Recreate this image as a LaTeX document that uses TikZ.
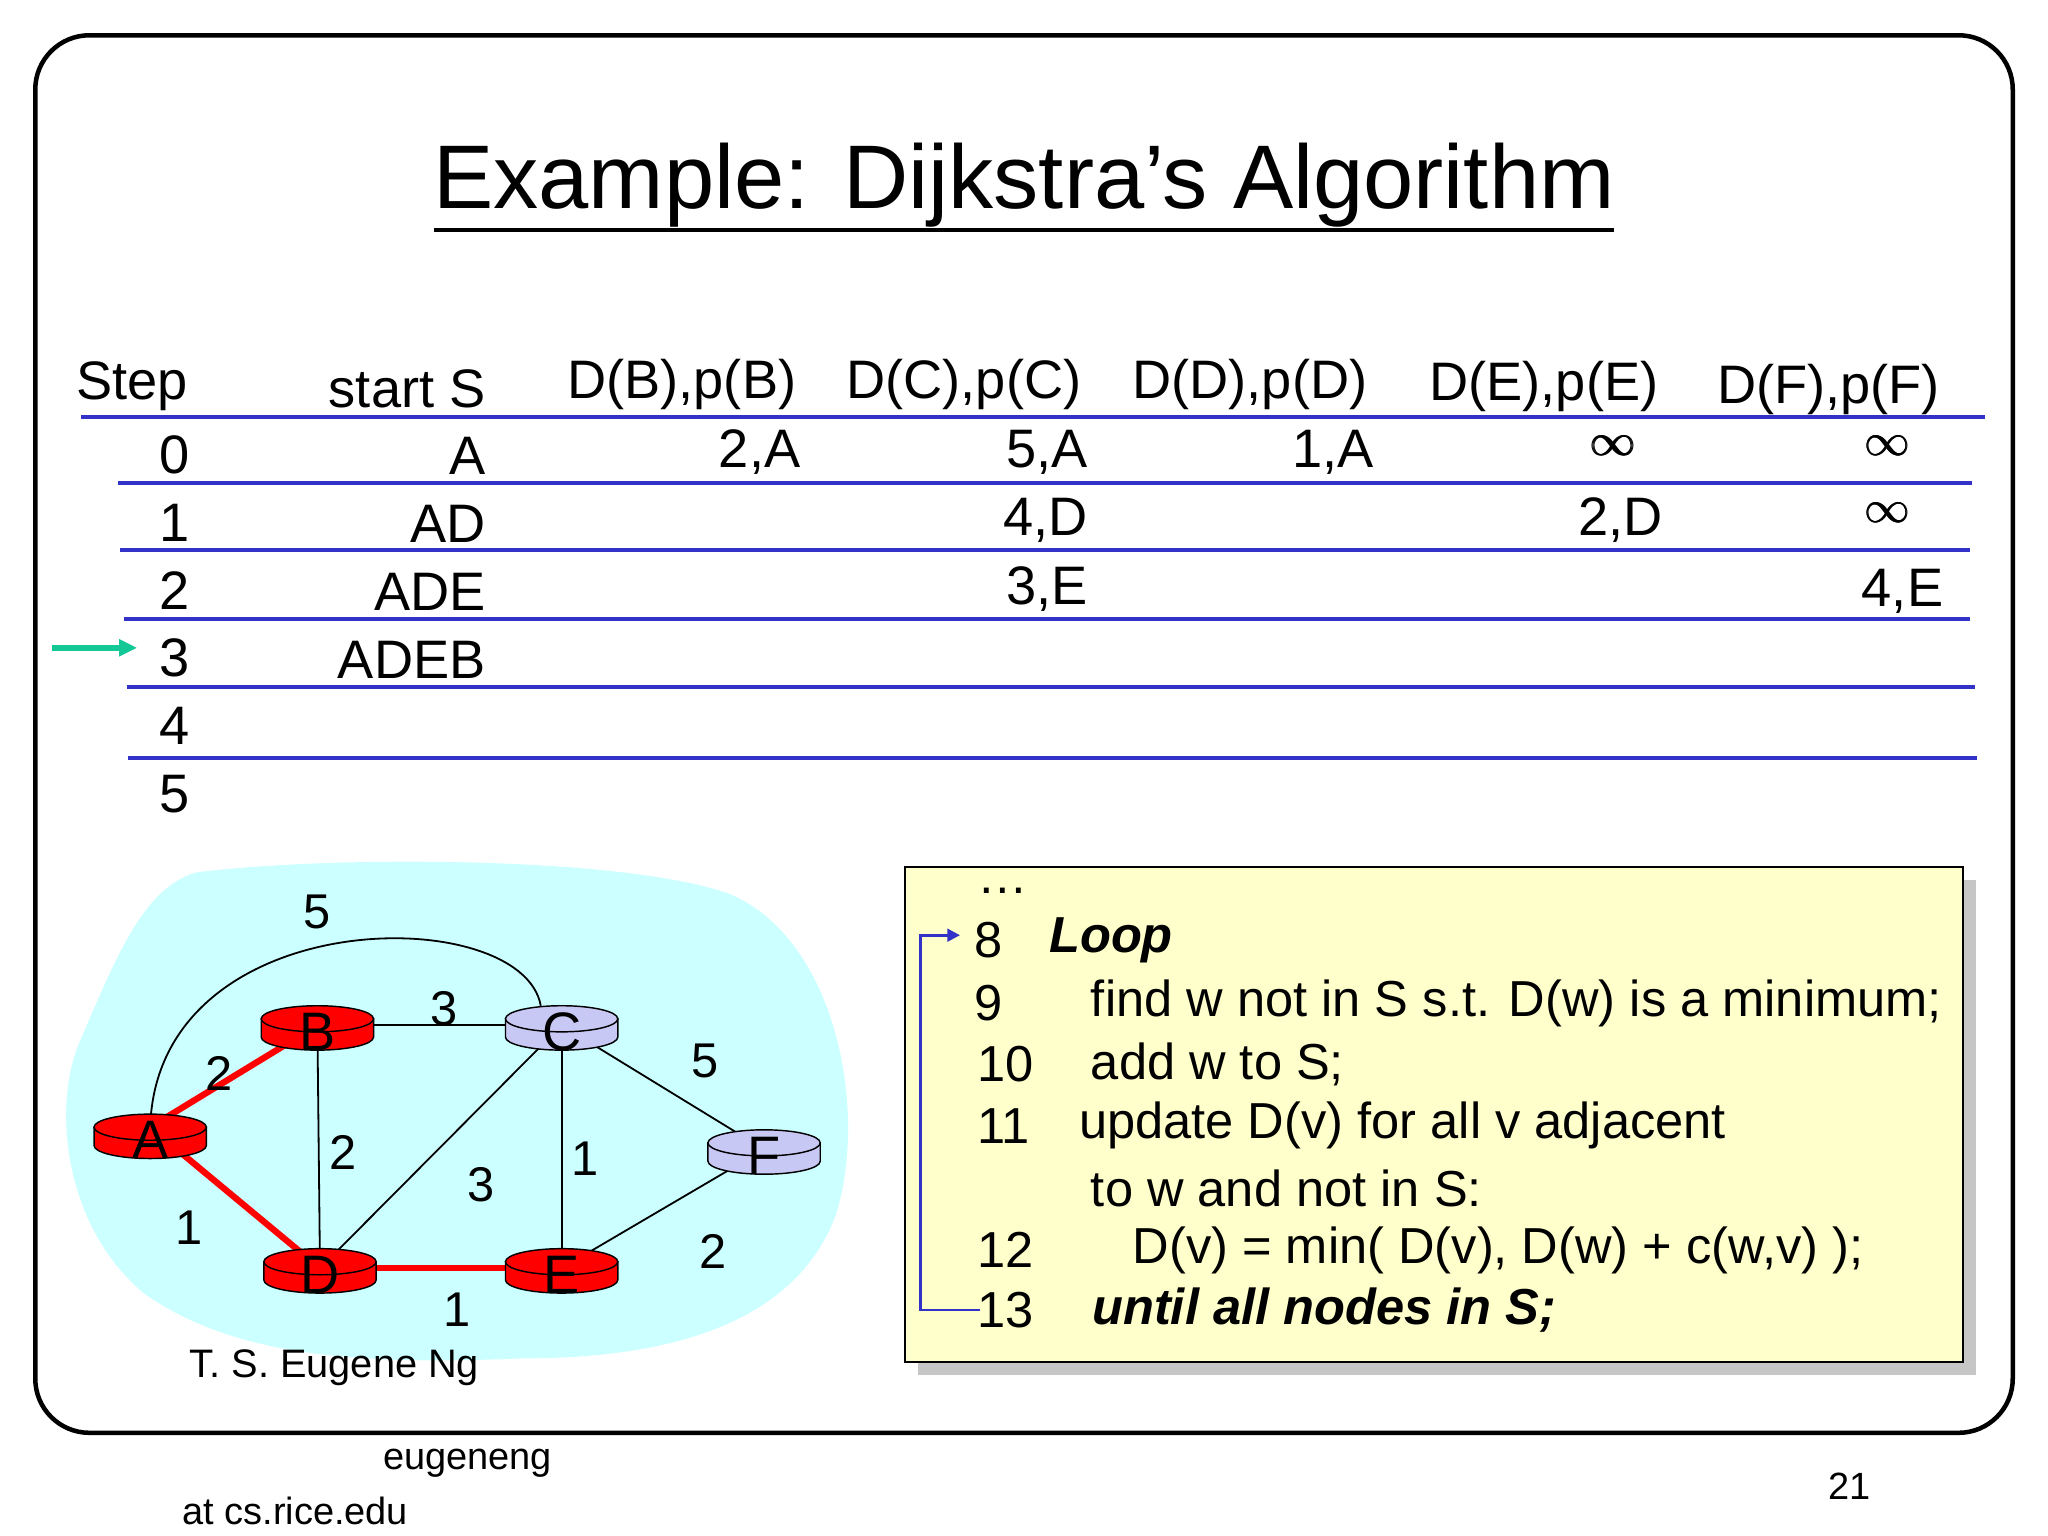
\documentclass[tikz,border=0pt]{standalone}
\usepackage{fontspec}
\setmainfont{Liberation Sans}
\usetikzlibrary{arrows.meta,shapes.geometric}
\definecolor{tblue}{RGB}{50,50,200}
\definecolor{lav}{RGB}{200,200,245}
\definecolor{cyanbg}{RGB}{204,255,255}
\definecolor{codebg}{RGB}{255,255,204}
\definecolor{grn}{RGB}{20,200,150}
\tikzset{
 tl/.style={draw=tblue,line width=2.2pt},
 tx/.style={font=\fontsize{30}{32}\selectfont,inner sep=0pt},
 inf/.style={font=\fontsize{58}{58}\selectfont,inner sep=0pt},
 gl/.style={font=\fontsize{27}{29}\selectfont,inner sep=0pt},
 cd/.style={font=\fontsize{28}{30}\selectfont,inner sep=0pt,anchor=west},
 edge/.style={line width=1pt},
 redge/.style={line width=3.5pt,draw=red},
}
\newcommand\rtr[4]{% x y fill label
 \fill[#3,draw=black,line width=0.8pt] (#1-43,#2-7) -- (#1-43,#2+7) arc[start angle=180,end angle=0,x radius=43,y radius=10] -- (#1+43,#2-7) -- cycle;
 \node[ellipse,draw,fill=#3,line width=0.8pt,minimum width=86*0.0254cm,minimum height=20*0.0254cm,inner sep=0pt] (#4r) at (#1,#2-7) {};
 \node[tx] at (#1,#2+3) {#4};
}
\newcommand\binf{\tikz[baseline]{\node[inner sep=0pt,anchor=base] at (0,0) {$\infty$}; \node[inner sep=0pt,anchor=base] at (0.4pt,0) {$\infty$}; \node[inner sep=0pt,anchor=base] at (0.8pt,0) {$\infty$};}}
\begin{document}
\begin{tikzpicture}[x=0.0254cm,y=-0.0254cm]
\useasboundingbox (0,0) rectangle (1568,1176);
\fill[white] (0,0) rectangle (1568,1176);
\draw[line width=2.5pt,rounded corners=30] (27,27) rectangle (1541,1097);
\node[font=\fontsize{50}{55}\selectfont,inner sep=0pt] (title) at (784,142) {Example: Dijkstra’s Algorithm};
\draw[line width=2pt] (332,176) -- (1236,176);
% table
\draw[tl] (62,319) -- (1520,319);
\draw[tl] (90,370) -- (1510,370);
\draw[tl] (92,421) -- (1508,421);
\draw[tl] (95,474) -- (1508,474);
\draw[tl] (97,526) -- (1512,526);
\draw[tl] (98,580) -- (1514,580);
\node[tx,anchor=west] at (58,296) {Step};
\node[tx,anchor=east] at (372,298) {start S};
\node[tx] at (522,294) {D(B),p(B)};
\node[tx] at (738,294) {D(C),p(C)};
\node[tx] at (957,294) {D(D),p(D)};
\node[tx] at (1182,296) {D(E),p(E)};
\node[tx] at (1400,298) {D(F),p(F)};
\foreach \i/\y in {0/348,1/400,2/452,3/504,4/556,5/608} \node[tx] at (134,\y) {\i};
\node[tx,anchor=east] at (372,349) {A};
\node[tx,anchor=east] at (372,401) {AD};
\node[tx,anchor=east] at (372,453) {ADE};
\node[tx,anchor=east] at (372,505) {ADEB};
\node[tx,anchor=east] at (613,346) {2,A};
\node[tx,anchor=east] at (833,346) {5,A};
\node[tx,anchor=east] at (1052,346) {1,A};
\node[inf] at (1235,341) {\binf};
\node[inf] at (1445,341) {\binf};
\node[tx,anchor=east] at (833,398) {4,D};
\node[tx,anchor=east] at (1273,398) {2,D};
\node[inf] at (1445,393) {\binf};
\node[tx,anchor=east] at (833,451) {3,E};
\node[tx,anchor=east] at (1488,453) {4,E};
\coordinate (g1) at (40,496); \coordinate (g2) at (105,496);
\draw[grn,line width=3pt,-{Triangle[length=10pt,width=9pt]}] (g1) -- (g2);
% graph
\fill[cyanbg] (150,668) .. controls (250,655) and (480,655) .. (560,685)
 .. controls (640,720) and (665,850) .. (640,930)
 .. controls (610,1010) and (520,1040) .. (400,1040)
 .. controls (280,1045) and (180,1040) .. (110,990)
 .. controls (50,940) and (40,850) .. (60,800)
 .. controls (90,730) and (110,680) .. (150,668) -- cycle;
\coordinate (A) at (115,863); \coordinate (B) at (243,785);
\coordinate (C) at (414,770); \coordinate (C2) at (430,785); \coordinate (D) at (245,971);
\coordinate (E) at (430,971); \coordinate (F) at (585,880);
\draw[edge] (B) -- (C2); \draw[edge] (B) -- (D); \draw[edge] (C2) -- (D);
\draw[edge] (C2) -- (E); \draw[edge] (C2) -- (F); \draw[edge] (E) -- (F);
\draw[edge] (A) .. controls (120,690) and (400,690) .. (C);
\draw[redge] (A) -- (B); \draw[redge] (A) -- (D); \draw[redge] (D) -- (E);
\rtr{115}{870}{red}{A}
\rtr{243}{787}{red}{B}
\rtr{430}{787}{lav}{C}
\rtr{245}{973}{red}{D}
\rtr{430}{973}{red}{E}
\rtr{585}{882}{lav}{F}
\foreach \t/\x/\y in {5/243/698,3/340/772,2/168/822,5/540/812,2/263/882,3/368/907,1/448/887,1/145/940,2/546/958,1/350/1003}
 \node[gl] at (\x,\y) {\t};
\node[inner sep=0pt,font=\fontsize{22}{24}\selectfont] (auth) at (256,1047) {T. S. Eugene Ng};
% code box
\fill[gray!45] (703,674) rectangle (1513,1053);
\draw[fill=codebg,line width=1.2pt] (693,664) rectangle (1503,1043);
\node[cd] at (748,682) {\dots};
\node[cd] at (746,720) {8};
\node[cd] at (803,720) {\textbf{\textit{Loop}}};
\node[cd] at (746,768) {9};
\node[cd] at (835,768) {find w not in S s.t. D(w) is a minimum;};
\node[cd] at (748,815) {10};
\node[cd] at (835,815) {add w to S;};
\node[cd] at (748,862) {11};
\node[cd] at (826,862) {update D(v) for all v adjacent};
\node[cd] at (835,910) {to w and not in S:};
\node[cd] at (748,957) {12};
\node[cd] at (867,957) {D(v) = min( D(v), D(w) + c(w,v) );};
\node[cd] (l13) at (748,1003) {13};
\node[cd] at (836,1003) {\textbf{\textit{until all nodes in S;}}};
\coordinate (ls) at (750,1003); \coordinate (le) at (735,716);
\draw[tblue,line width=1.5pt,-{Triangle[length=7pt,width=7pt]}] (ls) -- (705,1003) -- (705,716) -- (le);
% footer
\node[inner sep=0pt,font=\fontsize{21}{23}\selectfont] at (358,1120) {eugeneng};
\node[inner sep=0pt,font=\fontsize{21}{23}\selectfont] at (226,1157) {at cs.rice.edu};
\node[inner sep=0pt,font=\fontsize{21}{23}\selectfont] at (1416,1138) {21};
\end{tikzpicture}
\end{document}
